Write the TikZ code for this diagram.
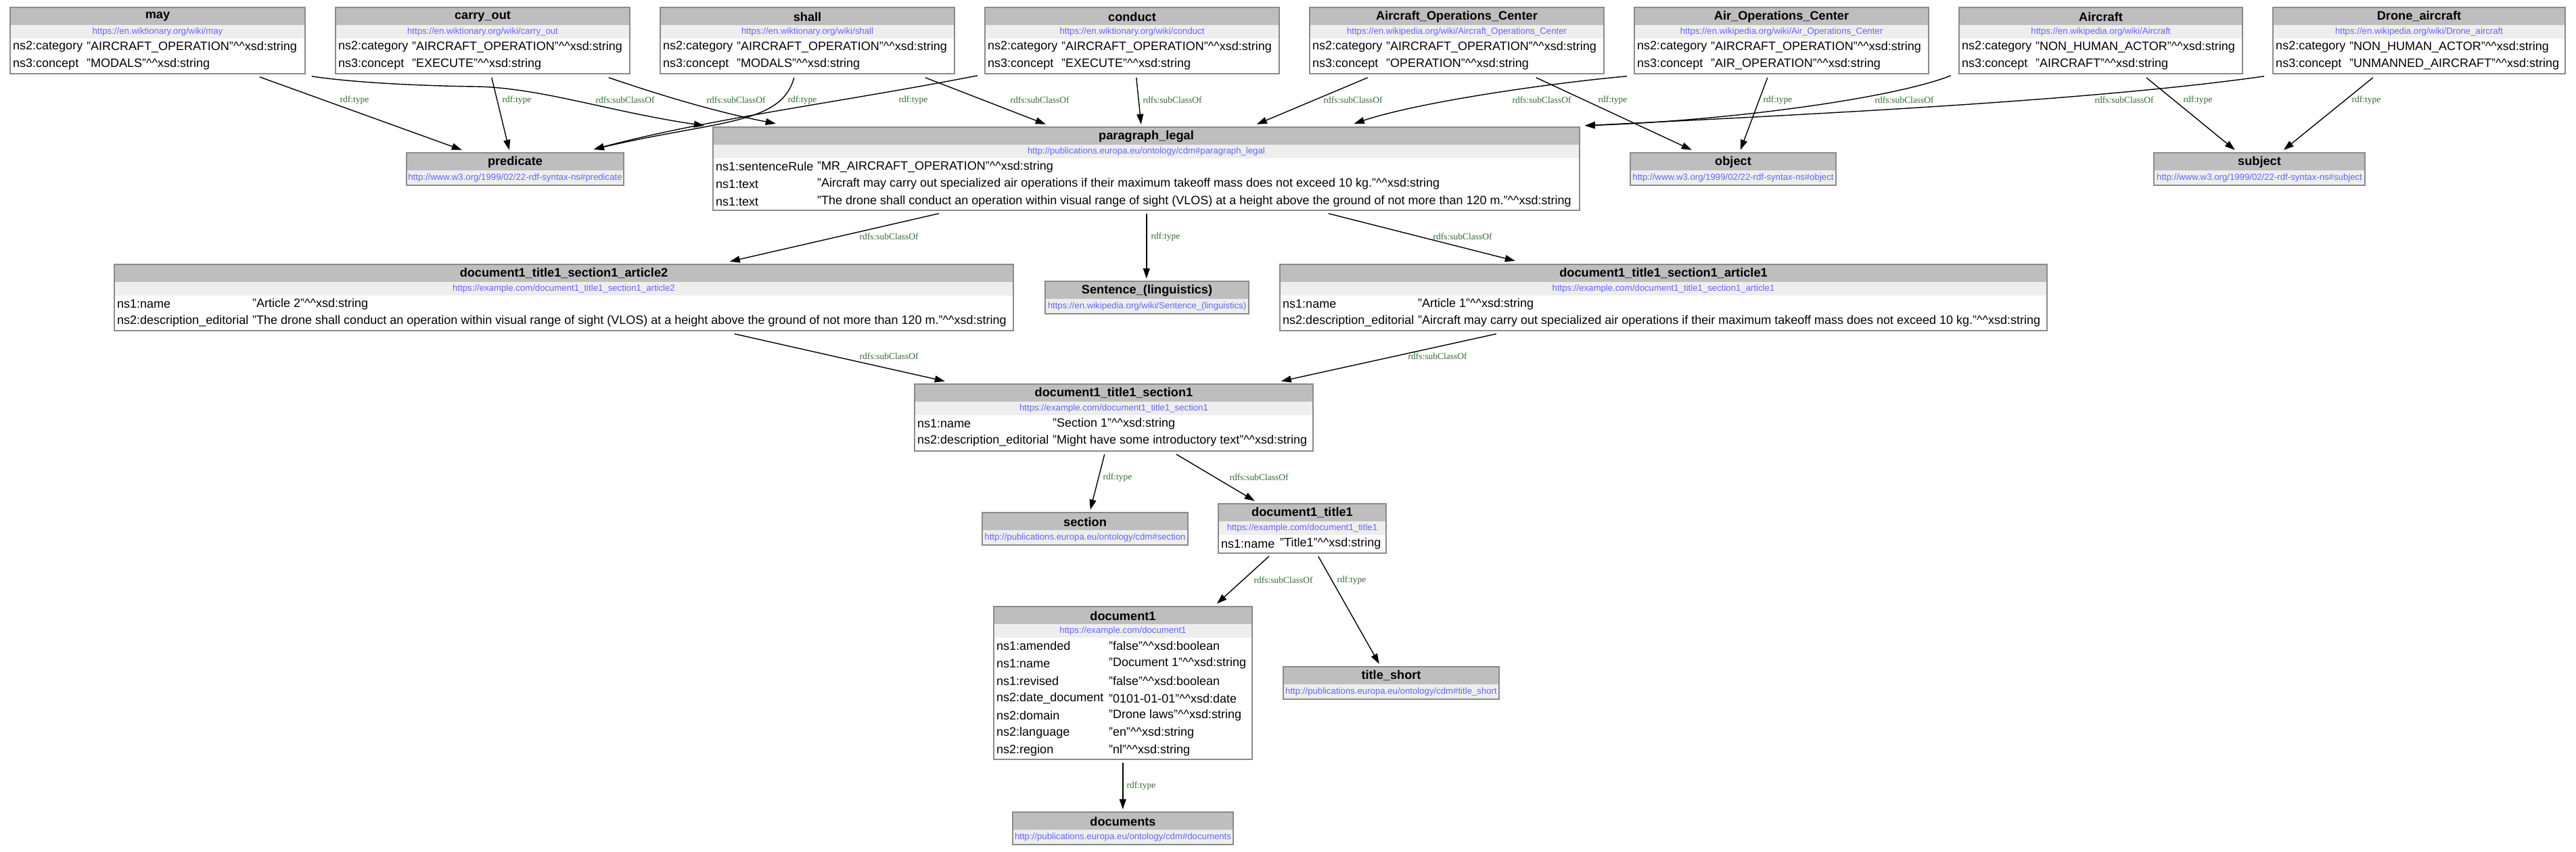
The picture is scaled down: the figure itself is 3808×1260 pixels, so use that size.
\documentclass[tikz,border=0pt]{standalone}
\usepackage{fontspec}
\setmainfont{Liberation Sans}
\newfontfamily\labserif{Liberation Serif}
\usetikzlibrary{arrows.meta,fit}
\definecolor{hdrgray}{HTML}{BEBEBE}
\definecolor{urlgray}{HTML}{EEEEEE}
\definecolor{framegray}{HTML}{8A8A8A}
\definecolor{urlblue}{HTML}{6464FF}
\definecolor{labgreen}{HTML}{2E6B2E}
\tikzset{
  frame/.style={draw=framegray, line width=1.6pt},
  ttl/.style={font=\fontsize{18.2}{21}\selectfont\bfseries, inner sep=0pt},
  urlt/.style={font=\fontsize{13.2}{15}\selectfont, text=urlblue, inner sep=0pt},
  rowt/.style={font=\fontsize{18}{21}\selectfont, inner sep=0pt, anchor=west},
  edge/.style={line width=1.4pt, -{Triangle[length=15pt,width=10pt]}},
  elab/.style={font=\labserif\fontsize{13.5}{15}\selectfont, text=labgreen, inner sep=0pt},
}
\newcommand\hh{\textasciicircum\textasciicircum xsd:}
% table box: name, left, top, right, bottom, title, url
\newcommand\tbox[7]{%
  \node[fit={(#2,#3) (#4,#5)}, inner sep=0pt] (#1) {};
  \fill[hdrgray] (#2,#3) rectangle (#4,#3+26);
  \fill[urlgray] (#2,#3+26) rectangle (#4,#3+46);
  \draw[frame] (#2,#3) rectangle (#4,#5);
  \node[ttl] (#1-t) at ({(#2+#4)/2},#3+13.5) {#6};
  \node[urlt] (#1-u) at ({(#2+#4)/2},#3+36) {#7};
}
% plain box: name, left, top, right, bottom, title, url
\newcommand\plainbox[7]{%
  \node[fit={(#2,#3) (#4,#5)}, inner sep=0pt] (#1) {};
  \fill[hdrgray] (#2,#3) rectangle (#4,#3+26);
  \fill[urlgray] (#2,#3+26) rectangle (#4,#5);
  \draw[frame] (#2,#3) rectangle (#4,#5);
  \node[ttl] (#1-t) at ({(#2+#4)/2},#3+13.5) {#6};
  \node[urlt] (#1-u) at ({(#2+#4)/2},#3+37.5) {#7};
}
% row: name, xkey, xval, y, key, value
\newcommand\brow[6]{%
  \node[rowt] (#1k) at (#2-1,#4) {#5};
  \node[rowt] (#1v) at (#3,#4) {#6};
}
\begin{document}
\begin{tikzpicture}[x=1pt,y=-1pt]
\useasboundingbox (0,0) rectangle (3808,1260);
\fill[white] (0,0) rectangle (3808,1260);

% ---- top row ----
\tbox{may}{15}{11}{451}{109}{may}{https://en.wiktionary.org/wiki/may}
\brow{may1}{20}{128}{69.5}{ns2:category}{"AIRCRAFT\_OPERATION"\hh string}
\brow{may2}{20}{128}{95.2}{ns3:concept}{"MODALS"\hh string}

\tbox{carryout}{496}{11}{931}{109}{carry\_out}{https://en.wiktionary.org/wiki/carry\_out}
\brow{co1}{501}{609}{69.5}{ns2:category}{"AIRCRAFT\_OPERATION"\hh string}
\brow{co2}{501}{609}{95.2}{ns3:concept}{"EXECUTE"\hh string}

\tbox{shall}{976}{11}{1411}{109}{shall}{https://en.wiktionary.org/wiki/shall}
\brow{sh1}{981}{1089}{69.5}{ns2:category}{"AIRCRAFT\_OPERATION"\hh string}
\brow{sh2}{981}{1089}{95.2}{ns3:concept}{"MODALS"\hh string}

\tbox{conduct}{1456}{11}{1891}{109}{conduct}{https://en.wiktionary.org/wiki/conduct}
\brow{cd1}{1461}{1569}{69.5}{ns2:category}{"AIRCRAFT\_OPERATION"\hh string}
\brow{cd2}{1461}{1569}{95.2}{ns3:concept}{"EXECUTE"\hh string}

\tbox{aoc}{1936}{11}{2371}{109}{Aircraft\_Operations\_Center}{https://en.wikipedia.org/wiki/Aircraft\_Operations\_Center}
\brow{ao1}{1941}{2049}{69.5}{ns2:category}{"AIRCRAFT\_OPERATION"\hh string}
\brow{ao2}{1941}{2049}{95.2}{ns3:concept}{"OPERATION"\hh string}

\tbox{airoc}{2416}{11}{2851}{109}{Air\_Operations\_Center}{https://en.wikipedia.org/wiki/Air\_Operations\_Center}
\brow{ai1}{2421}{2529}{69.5}{ns2:category}{"AIRCRAFT\_OPERATION"\hh string}
\brow{ai2}{2421}{2529}{95.2}{ns3:concept}{"AIR\_OPERATION"\hh string}

\tbox{aircraft}{2896}{11}{3315}{109}{Aircraft}{https://en.wikipedia.org/wiki/Aircraft}
\brow{ac1}{2901}{3009}{69.5}{ns2:category}{"NON\_HUMAN\_ACTOR"\hh string}
\brow{ac2}{2901}{3009}{95.2}{ns3:concept}{"AIRCRAFT"\hh string}

\tbox{drone}{3360}{11}{3792}{109}{Drone\_aircraft}{https://en.wikipedia.org/wiki/Drone\_aircraft}
\brow{dr1}{3365}{3473}{69.5}{ns2:category}{"NON\_HUMAN\_ACTOR"\hh string}
\brow{dr2}{3365}{3473}{95.2}{ns3:concept}{"UNMANNED\_AIRCRAFT"\hh string}

% ---- second row ----
\plainbox{predicate}{601}{226}{922}{274}{predicate}{http://www.w3.org/1999/02/22-rdf-syntax-ns\#predicate}
\plainbox{object}{2410}{226}{2714}{274}{object}{http://www.w3.org/1999/02/22-rdf-syntax-ns\#object}
\plainbox{subject}{3184}{226}{3496}{274}{subject}{http://www.w3.org/1999/02/22-rdf-syntax-ns\#subject}

\tbox{PL}{1054}{188}{2335}{311}{paragraph\_legal}{http://publications.europa.eu/ontology/cdm\#paragraph\_legal}
\brow{pl1}{1059}{1208}{246.5}{ns1:sentenceRule}{"MR\_AIRCRAFT\_OPERATION"\hh string}
\brow{pl2}{1059}{1208}{272.2}{ns1:text}{"Aircraft may carry out specialized air operations if their maximum takeoff mass does not exceed 10 kg."\hh string}
\brow{pl3}{1059}{1208}{297.9}{ns1:text}{"The drone shall conduct an operation within visual range of sight (VLOS) at a height above the ground of not more than 120 m."\hh string}

% ---- third row ----
\tbox{art2}{169}{391}{1498}{489}{document1\_title1\_section1\_article2}{https://example.com/document1\_title1\_section1\_article2}
\brow{a21}{174}{373}{449.5}{ns1:name}{"Article 2"\hh string}
\brow{a22}{174}{373}{475.2}{ns2:description\_editorial}{"The drone shall conduct an operation within visual range of sight (VLOS) at a height above the ground of not more than 120 m."\hh string}

\plainbox{sent}{1545}{416}{1846}{464}{Sentence\_(linguistics)}{https://en.wikipedia.org/wiki/Sentence\_(linguistics)}

\tbox{art1}{1892}{391}{3026}{489}{document1\_title1\_section1\_article1}{https://example.com/document1\_title1\_section1\_article1}
\brow{a11}{1897}{2096}{449.5}{ns1:name}{"Article 1"\hh string}
\brow{a12}{1897}{2096}{475.2}{ns2:description\_editorial}{"Aircraft may carry out specialized air operations if their maximum takeoff mass does not exceed 10 kg."\hh string}

% ---- lower part ----
\tbox{sec1}{1352}{568}{1941}{667}{document1\_title1\_section1}{https://example.com/document1\_title1\_section1}
\brow{s11}{1357}{1556}{626.5}{ns1:name}{"Section 1"\hh string}
\brow{s12}{1357}{1556}{652.2}{ns2:description\_editorial}{"Might have some introductory text"\hh string}

\plainbox{section}{1452}{758}{1756}{806}{section}{http://publications.europa.eu/ontology/cdm\#section}

\tbox{title1}{1801}{745}{2049}{818}{document1\_title1}{https://example.com/document1\_title1}
\brow{t11}{1806}{1892}{804}{ns1:name}{"Title1"\hh string}

\tbox{doc1}{1469}{897}{1851}{1123}{document1}{https://example.com/document1}
\brow{d1}{1474}{1639}{955.5}{ns1:amended}{"false"\hh boolean}
\brow{d2}{1474}{1639}{981.2}{ns1:name}{"Document 1"\hh string}
\brow{d3}{1474}{1639}{1006.9}{ns1:revised}{"false"\hh boolean}
\brow{d4}{1474}{1639}{1032.6}{ns2:date\_document}{"0101-01-01"\hh date}
\brow{d5}{1474}{1639}{1058.3}{ns2:domain}{"Drone laws"\hh string}
\brow{d6}{1474}{1639}{1084}{ns2:language}{"en"\hh string}
\brow{d7}{1474}{1639}{1109.7}{ns2:region}{"nl"\hh string}

\plainbox{tshort}{1897}{986}{2216}{1034}{title\_short}{http://publications.europa.eu/ontology/cdm\#title\_short}
\plainbox{documents}{1497}{1201}{1823}{1249}{documents}{http://publications.europa.eu/ontology/cdm\#documents}

% ---- edges, top ----
\draw[edge] ([shift={(369,103)}]may.north west) -- ([shift={(82,-4)}]predicate.north west);
\draw[edge] ([shift={(446,102)}]may.north west) .. controls (520,122) and (620,127) .. (704,128) .. controls (800,130) and (900,165) .. ([shift={(-13,-2)}]PL.north west);
\draw[edge] ([shift={(231,104)}]carryout.north west) -- ([shift={(152,-4)}]predicate.north west);
\draw[edge] ([shift={(404,104)}]carryout.north west) .. controls (945,130) and (1040,162) .. ([shift={(93,-5)}]PL.north west);
\draw[edge] ([shift={(198,104)}]shall.north west) .. controls (1155,185) and (1060,178) .. ([shift={(277,-5)}]predicate.north west);
\draw[edge] ([shift={(-11,101)}]conduct.north west) .. controls (1250,150) and (1050,175) .. ([shift={(277,-5)}]predicate.north west);
\draw[edge] ([shift={(392,104)}]shall.north west) -- ([shift={(492,-4)}]PL.north west);
\draw[edge] ([shift={(224,104)}]conduct.north west) -- ([shift={(633,-4)}]PL.north west);
\draw[edge] ([shift={(86,104)}]aoc.north west) -- ([shift={(804,-4)}]PL.north west);
\draw[edge] ([shift={(-11,102)}]airoc.north west) .. controls (2300,122) and (2100,150) .. ([shift={(948,-5)}]PL.north west);
\draw[edge] ([shift={(335,104)}]aoc.north west) -- ([shift={(91,-4)}]object.north west);
\draw[edge] ([shift={(197,104)}]airoc.north west) -- ([shift={(163,-4)}]object.north west);
\draw[edge] ([shift={(-12,101)}]aircraft.north west) .. controls (2800,145) and (2560,178) .. ([shift={(1289,-2)}]PL.north west);
\draw[edge] ([shift={(-13,102)}]drone.north west) .. controls (3100,148) and (2700,168) .. ([shift={(1289,-2)}]PL.north west);
\draw[edge] ([shift={(277,104)}]aircraft.north west) -- ([shift={(120,-4)}]subject.north west);
\draw[edge] ([shift={(148,104)}]drone.north west) -- ([shift={(192,-4)}]subject.north west);

% ---- edges, middle and lower ----
\draw[edge] ([shift={(334,128)}]PL.north west) -- ([shift={(910,-4)}]art2.north west);
\draw[edge] ([shift={(641,128)}]PL.north west) -- ([shift={(150,-4)}]sent.north west);
\draw[edge] ([shift={(910,128)}]PL.north west) -- ([shift={(348,-5)}]art1.north west);
\draw[edge] ([shift={(917,103)}]art2.north west) -- ([shift={(45,-4)}]sec1.north west);
\draw[edge] ([shift={(320,103)}]art1.north west) -- ([shift={(542,-4)}]sec1.north west);
\draw[edge] ([shift={(281,104)}]sec1.north west) -- ([shift={(160,-4)}]section.north west);
\draw[edge] ([shift={(387,104)}]sec1.north west) -- ([shift={(54,-4)}]title1.north west);
\draw[edge] ([shift={(75,78)}]title1.north west) -- ([shift={(330,-4)}]doc1.north west);
\draw[edge] ([shift={(148,78)}]title1.north west) -- ([shift={(142,-4)}]tshort.north west);
\draw[edge] ([shift={(191,231)}]doc1.north west) -- ([shift={(163,-4)}]documents.north west);

% ---- edge labels ----
\node[elab] (l1) at (524,148) {rdf:type};
\node[elab] (l2) at (764,148) {rdf:type};
\node[elab] (l3) at (924,148) {rdfs:subClassOf};
\node[elab] (l4) at (1088,148) {rdfs:subClassOf};
\node[elab] (l5) at (1186,148) {rdf:type};
\node[elab] (l6) at (1350,148) {rdf:type};
\node[elab] (l7) at (1537,148) {rdfs:subClassOf};
\node[elab] (l8) at (1733,148) {rdfs:subClassOf};
\node[elab] (l9) at (2000,148) {rdfs:subClassOf};
\node[elab] (l10) at (2279,148) {rdfs:subClassOf};
\node[elab] (l11) at (2384,148) {rdf:type};
\node[elab] (l12) at (2628,148) {rdf:type};
\node[elab] (l13) at (2815,148) {rdfs:subClassOf};
\node[elab] (l14) at (3140,148) {rdfs:subClassOf};
\node[elab] (l15) at (3249,148) {rdf:type};
\node[elab] (l16) at (3498,148) {rdf:type};
\node[elab] (l17) at (1314,350) {rdfs:subClassOf};
\node[elab] (l18) at (1723,350) {rdf:type};
\node[elab] (l19) at (2162,350) {rdfs:subClassOf};
\node[elab] (l20) at (1314,527) {rdfs:subClassOf};
\node[elab] (l21) at (2125,527) {rdfs:subClassOf};
\node[elab] (l22) at (1652,706) {rdf:type};
\node[elab] (l23) at (1861,706) {rdfs:subClassOf};
\node[elab] (l24) at (1897,858) {rdfs:subClassOf};
\node[elab] (l25) at (1998,858) {rdf:type};
\node[elab] (l26) at (1687,1162) {rdf:type};
\end{tikzpicture}
\end{document}
